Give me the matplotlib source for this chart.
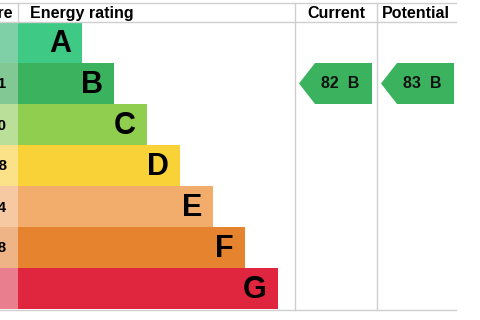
import matplotlib
matplotlib.use("Agg")
import matplotlib.pyplot as plt
from matplotlib.patches import Polygon

plt.rcParams['font.family'] = ['Liberation Sans', 'DejaVu Sans']

# Data
bands = ['A', 'B', 'C', 'D', 'E', 'F', 'G']
score_ranges = ['92+', '81-91', '69-80', '55-68', '39-54', '21-38', '1-20']
bar_lengths = [64, 96, 129, 162, 195, 227, 260]
bar_colors = ['#3ec985', '#3bb35e', '#8fce4f', '#f8d236', '#f2ad6c', '#e6832f', '#e0263f']
score_colors = ['#7fd0a6', '#82c894', '#b9df98', '#fbe289', '#f6c9a3', '#eeb486', '#e87e8e']
current_value = 82
current_band = 'B'
potential_value = 83
potential_band = 'B'

fig = plt.figure(figsize=(4.8, 3.2), dpi=100)
ax = fig.add_axes([0, 0, 1, 1])
ax.set_xlim(0, 480)
ax.set_ylim(320, 0)
ax.axis('off')

top_y = 22
row_h = 41
bar_x0 = 18
grid_c = '#cfcfcf'

for i, (b, L, c, sc, rng) in enumerate(zip(bands, bar_lengths, bar_colors, score_colors, score_ranges)):
    yc = top_y + i * row_h + row_h / 2
    ax.barh(yc, bar_x0, left=0, height=row_h, color=sc, linewidth=0)
    ax.barh(yc, L, left=bar_x0, height=row_h, color=c, linewidth=0)
    ax.text(bar_x0 + L - 11, yc + 1.5, b, ha='right', va='center', fontsize=22,
            fontweight='bold', color='black')
    if rng not in ('92+', '1-20'):
        ax.text(7, yc + 1, rng, ha='right', va='center', fontsize=11, fontweight='bold', color='black')

# Grid lines
ax.plot([0, 456], [3, 3], color=grid_c, lw=1)
ax.plot([0, 456], [top_y, top_y], color=grid_c, lw=1)
ax.plot([0, 456], [310, 310], color=grid_c, lw=1)
ax.plot([bar_x0, bar_x0], [3, top_y], color=grid_c, lw=1)
ax.plot([295, 295], [3, 310], color=grid_c, lw=1)
ax.plot([377, 377], [3, 310], color=grid_c, lw=1)

# Headers
hy = 13.5
ax.text(13, hy, 'Score', ha='right', va='center', fontsize=11.5, fontweight='bold')
ax.text(30, hy, 'Energy rating', ha='left', va='center', fontsize=11.5, fontweight='bold')
ax.text(336, hy, 'Current', ha='center', va='center', fontsize=11.5, fontweight='bold')
ax.text(416, hy, 'Potential', ha='center', va='center', fontsize=11.5, fontweight='bold')

def arrow(x_tip, x_corner, x_right, band, value):
    i = bands.index(band)
    y0 = top_y + i * row_h
    y1 = y0 + row_h
    ym = (y0 + y1) / 2
    poly = Polygon([[x_tip, ym], [x_corner, y0], [x_right, y0], [x_right, y1], [x_corner, y1]],
                   closed=True, color=bar_colors[i], linewidth=0)
    ax.add_patch(poly)
    ax.text((x_tip + x_right) / 2 + 5, ym + 0.5, f'{value}  {band}', ha='center', va='center',
            fontsize=11.5, fontweight='bold', color='#111111')

arrow(299, 315, 372, current_band, current_value)
arrow(381, 397, 454, potential_band, potential_value)

fig.savefig('out.png', dpi=100)
